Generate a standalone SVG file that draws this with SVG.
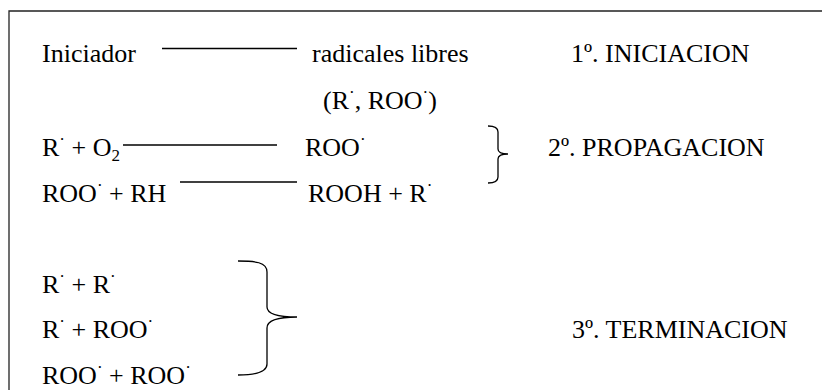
<svg xmlns="http://www.w3.org/2000/svg" width="822" height="390" viewBox="0 0 822 390">
<style>
text{font-family:"Liberation Serif","Times New Roman",serif;font-size:26px;fill:#000;white-space:pre}
.sup{font-size:17px}
.sub{font-size:17px}
.ln{stroke:#000;stroke-width:1.3;fill:none}
.br{stroke:#000;stroke-width:1.3;fill:none}
.frame{stroke:#222;stroke-width:1.3;fill:none}
</style>
<rect width="822" height="390" fill="#fff"/>
<path class="frame" d="M9,400 L9,11 L830,11"/>
<g id="iniciador"><text x="42" y="62">Iniciador</text></g>
<g id="radicales"><text x="312" y="62">radicales libres</text></g>
<g id="radicales-tipos"><text x="323" y="109">(R<tspan class="sup" dy="-11">·</tspan><tspan dy="11">, ROO</tspan><tspan class="sup" dy="-11">·</tspan><tspan dy="11">)</tspan></text></g>
<g id="etapa1"><text x="571" y="62">1º. INICIACION</text></g>
<g id="prop-r1"><text x="42" y="156">R<tspan class="sup" dy="-11">·</tspan><tspan dy="11"> + O</tspan><tspan class="sub" dy="5">2</tspan></text></g>
<g id="prop-p1"><text x="305" y="156">ROO<tspan class="sup" dy="-11">·</tspan></text></g>
<g id="prop-r2"><text x="42" y="202">ROO<tspan class="sup" dy="-11">·</tspan><tspan dy="11"> + RH</tspan></text></g>
<g id="prop-p2"><text x="308" y="202">ROOH + R<tspan class="sup" dy="-11">·</tspan></text></g>
<g id="etapa2"><text x="548" y="156">2º. PROPAGACION</text></g>
<g id="term1"><text x="42" y="293">R<tspan class="sup" dy="-11">·</tspan><tspan dy="11"> + R</tspan><tspan class="sup" dy="-11">·</tspan></text></g>
<g id="term2"><text x="42" y="338">R<tspan class="sup" dy="-11">·</tspan><tspan dy="11"> + ROO</tspan><tspan class="sup" dy="-11">·</tspan></text></g>
<g id="term3"><text x="42" y="384">ROO<tspan class="sup" dy="-11">·</tspan><tspan dy="11"> + ROO</tspan><tspan class="sup" dy="-11">·</tspan></text></g>
<g id="etapa3"><text x="572" y="338">3º. TERMINACION</text></g>
<g id="connectors">
<line class="ln" x1="162" y1="48.5" x2="297" y2="48.5"/>
<line class="ln" x1="123" y1="145" x2="277" y2="145"/>
<line class="ln" x1="180" y1="182" x2="297" y2="182"/>
<path class="br" d="M488,126 Q498,126 498,132 L498,149 Q498,154 508,154 Q498,154 498,159 L498,177 Q498,183 488,183"/>
<path class="br" d="M238,261 C255,261 267,262 267,272 L267,307 C267,313 275,317 297,317 C275,317 267,321 267,328 L267,364 C267,372 255,375 238,375"/>
</g>
</svg>
